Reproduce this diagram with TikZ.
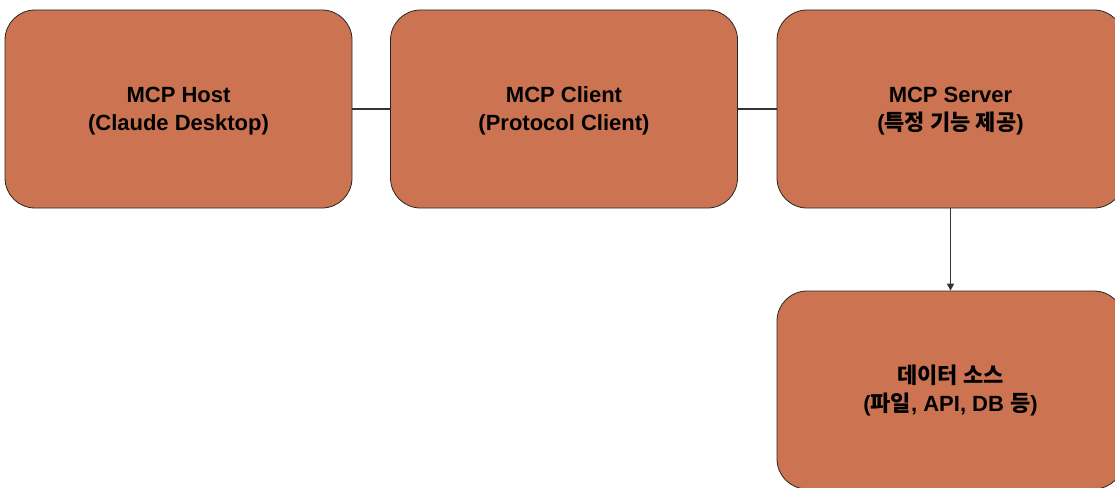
\documentclass[tikz,border=0pt]{standalone}
\usepackage{fontspec}
\setmainfont{Liberation Sans}
\newfontfamily\krfont{Noto Sans CJK KR}
\newcommand{\kr}[1]{{\krfont #1}}
\usetikzlibrary{arrows.meta}
\definecolor{boxfill}{HTML}{CC7452}
\definecolor{linegray}{HTML}{333333}

\begin{document}
\begin{tikzpicture}[
    x=1pt, y=-1pt,
    block/.style={draw=black!85, fill=boxfill, line width=0.8pt, rounded corners=30pt,
                  minimum width=347pt, minimum height=198pt, align=center,
                  font=\fontsize{22}{28}\selectfont\bfseries},
    link/.style={draw=linegray, line width=1.4pt},
    flow/.style={link, -{Triangle[length=7pt, width=7pt]}}
]
    % Page frame
    \useasboundingbox (0,0) rectangle (1115,487);
    \clip (0,0) rectangle (1115,487);

    % Top row
    \node[block] (host) at (178.5,109) {\strut MCP Host\\(Claude Desktop)};
    \node[block] (client) at (564,109) {\strut MCP Client\\(Protocol Client)};
    \node[block] (server) at (950.5,109) {\strut MCP Server\\(\kr{특정 기능 제공})};

    % Data source below the server
    \node[block] (data) at (950.5,390) {\strut\kr{데이터 소스}\\(\kr{파일}, API, DB \kr{등})};

    % Connectors
    \draw[link] (host) -- (client);
    \draw[link] (client) -- (server);
    \draw[flow] (server) -- (data);

\end{tikzpicture}
\end{document}
